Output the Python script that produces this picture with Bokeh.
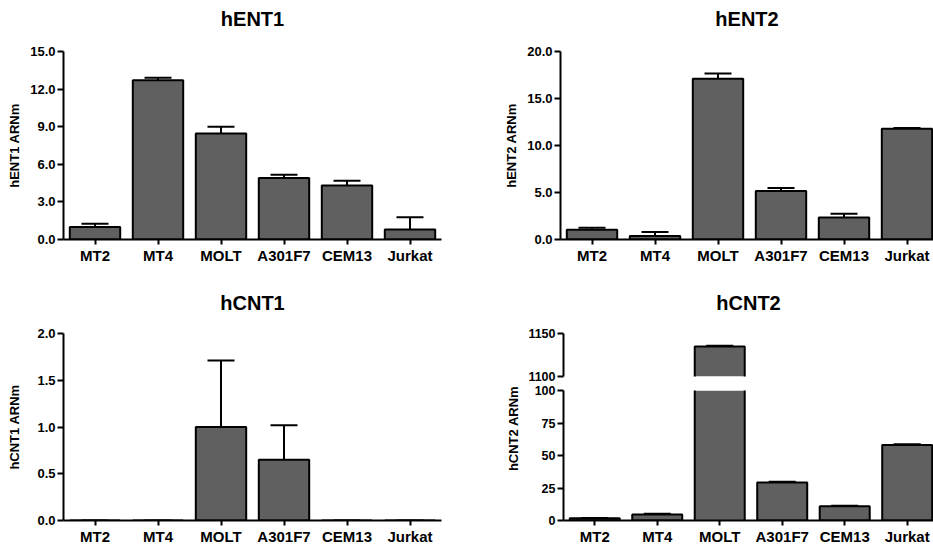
import math

from bokeh.plotting import figure
from bokeh.models import (ColumnDataSource, Range1d, FixedTicker,
                          NumeralTickFormatter, Whisker, TeeHead, Title)
from bokeh.layouts import row, column
from bokeh.embed import file_html
from bokeh.resources import INLINE
from bokeh.core.properties import value

# Nucleoside transporter mRNA levels per T-cell line (mean and SEM)
cell_lines = ["MT2", "MT4", "MOLT", "A301F7", "CEM13", "Jurkat"]

hent1_mean = [1.0, 12.7, 8.45, 4.9, 4.3, 0.8]
hent1_sem = [0.25, 0.2, 0.55, 0.27, 0.38, 0.98]

hent2_mean = [1.05, 0.38, 17.1, 5.15, 2.33, 11.77]
hent2_sem = [0.2, 0.42, 0.55, 0.32, 0.42, 0.1]

hcnt1_mean = [0.0, 0.0, 1.0, 0.65, 0.0, 0.0]
hcnt1_sem = [0.0, 0.0, 0.71, 0.37, 0.0, 0.0]

hcnt2_mean = [1.7, 4.7, 1135.0, 29.2, 10.9, 58.0]
hcnt2_sem = [0.3, 0.5, 0.8, 0.6, 0.5, 0.6]

hent1_ticks = [0, 3, 6, 9, 12, 15]
hent2_ticks = [0, 5, 10, 15, 20]
hcnt1_ticks = [0, 0.5, 1.0, 1.5, 2.0]
hcnt2_low_ticks = [0, 25, 50, 75, 100]
hcnt2_high_ticks = [1100, 1150]
hcnt2_break = (100, 1100)

FONT = "Liberation Sans"
BAR_FILL = "#606060"
BAR_WIDTH = 0.8
PX_PER_CAT = 63.0

positions = list(range(1, len(cell_lines) + 1))
label_map = {pos: name for pos, name in zip(positions, cell_lines)}


def base_figure(width, height, x_end, y_lo, y_hi, borders, title="",
                title_gap=19):
    left, right, top, bottom = borders
    p = figure(width=width, height=height, output_backend="svg",
               toolbar_location=None, x_range=Range1d(0.5, x_end),
               y_range=Range1d(y_lo, y_hi),
               min_border_left=left, min_border_right=right,
               min_border_top=top, min_border_bottom=bottom)
    p.outline_line_color = None
    p.grid.visible = False
    if title:
        p.title.text = title
        p.title.align = "center"
        p.title.text_font = FONT
        p.title.text_font_size = "20px"
        p.title.text_font_style = "bold"
        p.title.text_color = "black"
        p.title.standoff = 0
        # blank spacer between the heading and the plot frame
        p.add_layout(Title(text=" ", text_font_size="1px",
                           standoff=title_gap), "above")
    else:
        p.title.visible = False
    for ax in p.axis:
        ax.axis_line_width = 2
        ax.axis_line_color = "black"
        ax.major_tick_line_width = 2
        ax.major_tick_line_color = "black"
        ax.major_tick_in = 0
        ax.minor_tick_line_color = None
        ax.major_label_text_font = FONT
        ax.major_label_text_font_style = "bold"
        ax.major_label_text_color = "black"
    p.xaxis.ticker = FixedTicker(ticks=positions)
    p.xaxis.major_label_overrides = label_map
    p.xaxis.major_label_text_font_size = "15px"
    p.xaxis.major_tick_out = 5
    p.xaxis.major_label_standoff = 2
    p.yaxis.major_label_text_font_size = "13px"
    p.yaxis.major_tick_out = 6
    p.yaxis.major_label_standoff = 2
    p.yaxis.axis_label_text_font = FONT
    p.yaxis.axis_label_text_font_style = "bold"
    p.yaxis.axis_label_text_font_size = "13px"
    p.yaxis.axis_label_text_color = "black"
    return p


def add_whiskers(p, idx, means, sems):
    err = ColumnDataSource(dict(
        x=[positions[i] for i in idx],
        lower=[means[i] for i in idx],
        upper=[means[i] + sems[i] for i in idx]))
    p.add_layout(Whisker(base="x", lower="lower", upper="upper", source=err,
                         line_color="black", line_width=2, lower_head=None,
                         upper_head=TeeHead(size=27, line_width=2,
                                            line_color="black")))


def add_bars(p, means, sems, idx=None):
    if idx is None:
        idx = list(range(len(means)))
    src = ColumnDataSource(dict(x=[positions[i] for i in idx],
                                top=[means[i] for i in idx]))
    p.vbar(x="x", top="top", bottom=0, width=BAR_WIDTH, source=src,
           fill_color=BAR_FILL, line_color="black", line_width=2)
    add_whiskers(p, idx, means, sems)


def add_cut_bars(p, means, idx, with_top):
    # bars interrupted by the axis break: fill plus side outlines only
    half = BAR_WIDTH / 2
    src = ColumnDataSource(dict(x=[positions[i] for i in idx],
                                top=[means[i] for i in idx]))
    p.vbar(x="x", top="top", bottom=0, width=BAR_WIDTH, source=src,
           fill_color=BAR_FILL, line_color=None)
    xs, ys = [], []
    for i in idx:
        x, m = positions[i], means[i]
        if with_top:
            xs.append([x - half, x - half, x + half, x + half])
            ys.append([0, m, m, 0])
        else:
            xs += [[x - half, x - half], [x + half, x + half]]
            ys += [[0, m], [0, m]]
    p.multi_line(xs=xs, ys=ys, line_color="black", line_width=2)


# Row 1 -------------------------------------------------------------------
right_x_end = 0.5 + 373 / PX_PER_CAT

p1 = base_figure(480, 280, 6.5, 0, 15, (63, 39, 51, 41), "hENT1",
                 title_gap=19)
add_bars(p1, hent1_mean, hent1_sem)
p1.yaxis.ticker = FixedTicker(ticks=hent1_ticks)
p1.yaxis.formatter = NumeralTickFormatter(format="0.0")
p1.yaxis.axis_label = "hENT1 ARNm"
p1.yaxis.axis_label_standoff = 5

p2 = base_figure(453, 280, right_x_end, 0, 20, (80, 0, 51, 41), "hENT2",
                 title_gap=19)
add_bars(p2, hent2_mean, hent2_sem)
p2.yaxis.ticker = FixedTicker(ticks=hent2_ticks)
p2.yaxis.formatter = NumeralTickFormatter(format="0.0")
p2.yaxis.axis_label = "hENT2 ARNm"
p2.yaxis.axis_label_standoff = 5

# Row 2 -------------------------------------------------------------------
p3 = base_figure(480, 267, 6.5, 0, 2, (63, 39, 53, 25), "hCNT1",
                 title_gap=17)
add_bars(p3, hcnt1_mean, hcnt1_sem)
p3.yaxis.ticker = FixedTicker(ticks=hcnt1_ticks)
p3.yaxis.formatter = NumeralTickFormatter(format="0.0")
p3.yaxis.axis_label = "hCNT1 ARNm"
p3.yaxis.axis_label_standoff = 12

# hCNT2 uses a broken y axis: a high segment stacked above a low segment
low_max, high_min = hcnt2_break
low_idx = [i for i, m in enumerate(hcnt2_mean) if m <= low_max]
high_idx = [i for i, m in enumerate(hcnt2_mean) if m >= high_min]

p4_hi = base_figure(408, 103, right_x_end, high_min, hcnt2_high_ticks[-1],
                    (35, 0, 53, 7), "hCNT2", title_gap=17)
add_cut_bars(p4_hi, hcnt2_mean, high_idx, with_top=True)
add_whiskers(p4_hi, high_idx, hcnt2_mean, hcnt2_sem)
p4_hi.xaxis.visible = False
p4_hi.yaxis.ticker = FixedTicker(ticks=hcnt2_high_ticks)
p4_hi.yaxis.formatter = NumeralTickFormatter(format="0")
p4_hi.yaxis.major_label_text_font_size = "12.5px"

p4_lo = base_figure(408, 164, right_x_end, 0, low_max, (35, 0, 7, 25))
add_bars(p4_lo, hcnt2_mean, hcnt2_sem, idx=low_idx)
add_cut_bars(p4_lo, hcnt2_mean, high_idx, with_top=False)
p4_lo.yaxis.ticker = FixedTicker(ticks=hcnt2_low_ticks)
p4_lo.yaxis.formatter = NumeralTickFormatter(format="0")
p4_lo.yaxis.major_label_text_font_size = "12.5px"

# shared y-axis title spanning both segments
p4_lab = figure(width=45, height=267, output_backend="svg",
                toolbar_location=None, x_axis_location=None,
                y_axis_location=None, x_range=Range1d(0, 45),
                y_range=Range1d(0, 267), min_border=0)
p4_lab.outline_line_color = None
p4_lab.grid.visible = False
p4_lab.title.visible = False
p4_lab.text(x=[33], y=[119], text=["hCNT2 ARNm"], angle=math.pi / 2,
            text_align="center", text_baseline="middle",
            text_font=value(FONT), text_font_style="bold",
            text_font_size="13px", text_color="black")

layout = column(row(p1, p2),
                row(p3, row(p4_lab, column(p4_hi, p4_lo))))

open("out.html", "w").write(file_html(layout, INLINE))
